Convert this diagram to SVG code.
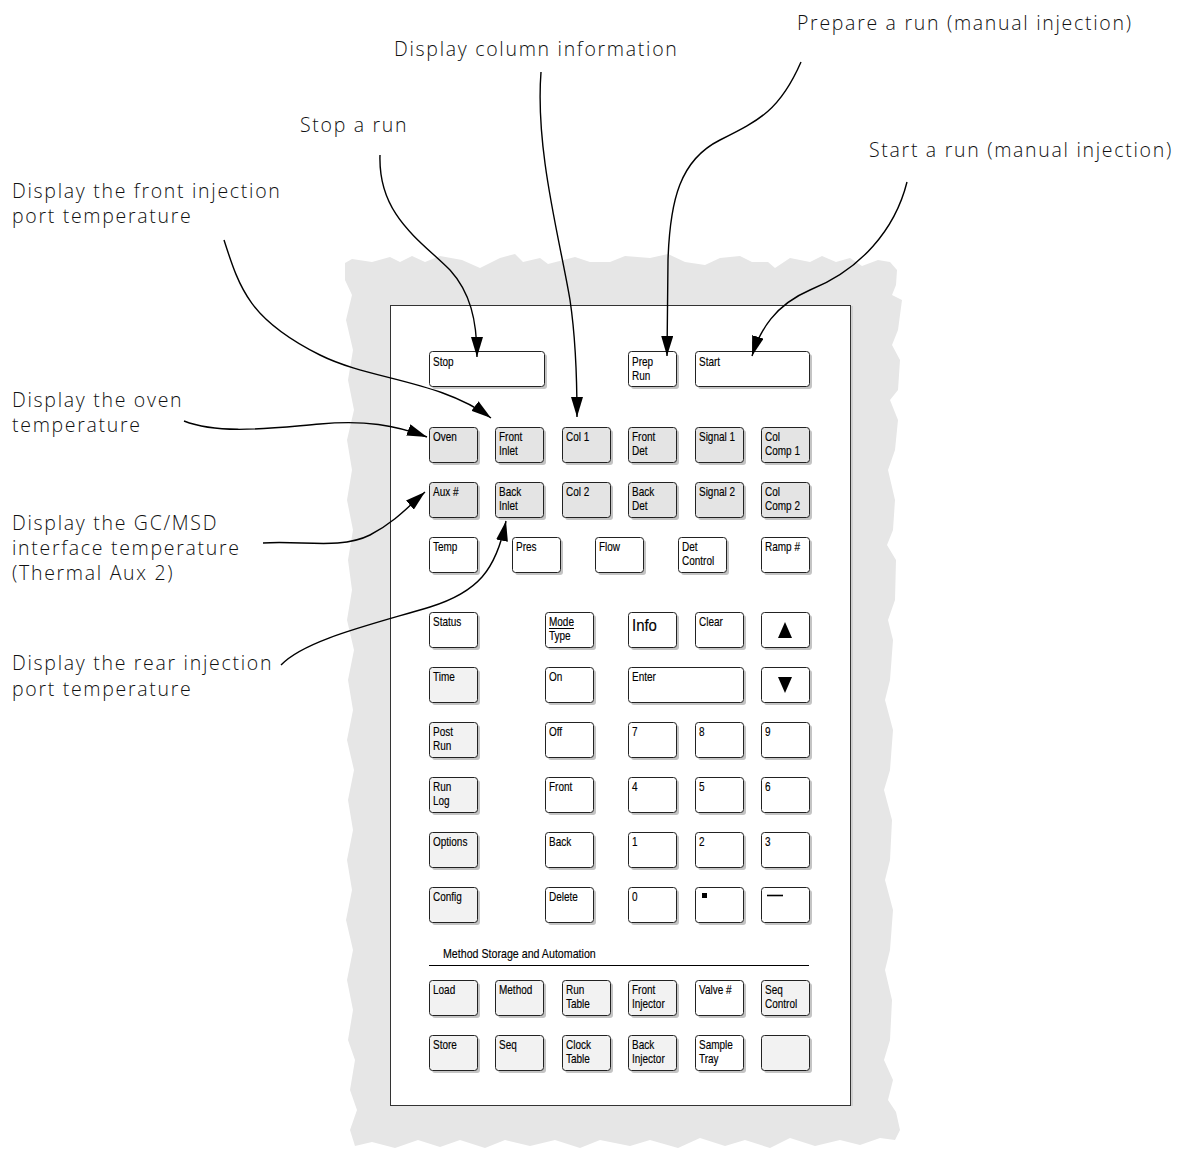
<svg xmlns="http://www.w3.org/2000/svg" width="1191" height="1152" viewBox="0 0 1191 1152">
<defs>
<style>
.lbl{font-family:"Open Sans","DejaVu Sans",sans-serif;font-weight:300;font-size:19.5px;fill:#111;letter-spacing:1.7px}
.k{fill:#fff;stroke:#222;stroke-width:1}
.g{fill:#e4e4e4}
.lg{fill:#f2f2f2}
.sh{fill:#c4c4c4}
.t{font-family:"Liberation Sans",Arial,sans-serif;font-size:12.5px;fill:#000;stroke:#000;stroke-width:0.15}
.c{fill:none;stroke:#000;stroke-width:1.4}
</style>
<marker id="ah" viewBox="0 0 20 12" refX="20" refY="6" markerWidth="20" markerHeight="12" markerUnits="userSpaceOnUse" orient="auto">
<path d="M0,0 L20,6 L0,12 Z" fill="#000"/>
</marker>
</defs>
<rect width="1191" height="1152" fill="#fff"/>
<g id="paper">
<path fill="#e6e6e6" d="M345,263 L352,259 L372,262 L390,257 L400,262 L412,256 L425,262 L440,256 L462,260 L480,268 L500,258 L515,254 L523,262 L540,258 L548,264 L575,257 L590,262 L610,262 L625,256 L650,258 L668,254 L685,262 L705,265 L720,258 L740,256 L752,262 L768,262 L775,268 L790,258 L810,262 L822,256 L836,262 L850,258 L862,266 L878,260 L890,262 L897,270 L896,285 L892,295 L902,300 L898,330 L892,345 L900,360 L898,390 L890,400 L898,420 L895,450 L888,470 L895,500 L893,530 L887,545 L896,560 L895,600 L888,620 L893,640 L890,680 L885,700 L893,730 L890,770 L884,790 L892,820 L890,860 L885,880 L893,910 L890,950 L885,970 L892,1000 L890,1040 L884,1060 L893,1080 L888,1100 L896,1112 L900,1130 L895,1140 L880,1138 L860,1145 L840,1140 L815,1146 L790,1138 L770,1148 L745,1140 L725,1146 L700,1138 L678,1148 L650,1140 L630,1146 L600,1140 L580,1148 L555,1140 L530,1146 L505,1140 L485,1148 L460,1140 L440,1147 L418,1140 L395,1148 L372,1142 L355,1146 L350,1130 L357,1110 L350,1090 L355,1060 L348,1040 L353,1010 L347,980 L353,950 L346,920 L352,890 L347,860 L353,830 L348,800 L354,770 L347,740 L353,710 L348,680 L354,650 L347,620 L352,590 L348,560 L353,530 L347,500 L352,470 L347,440 L354,410 L348,380 L353,350 L346,320 L352,295 L345,280 Z"/>
<rect x="390.5" y="305.5" width="460" height="800" fill="#fff" stroke="#333" stroke-width="1"/>
<line x1="852" y1="306" x2="852" y2="1106" stroke="#bbb" stroke-width="1"/>
</g>
<g id="labels">
<text class="lbl" x="797" y="30">Prepare a run (manual injection)</text>
<text class="lbl" x="394" y="56">Display column information</text>
<text class="lbl" x="300" y="132">Stop a run</text>
<text class="lbl" x="869" y="157">Start a run (manual injection)</text>
<text class="lbl" x="12" y="198">Display the front injection</text>
<text class="lbl" x="12" y="223">port temperature</text>
<text class="lbl" x="12" y="407">Display the oven</text>
<text class="lbl" x="12" y="432">temperature</text>
<text class="lbl" x="12" y="530">Display the GC/MSD</text>
<text class="lbl" x="12" y="555">interface temperature</text>
<text class="lbl" x="12" y="580">(Thermal Aux 2)</text>
<text class="lbl" x="12" y="670">Display the rear injection</text>
<text class="lbl" x="12" y="696">port temperature</text>
</g>
<g id="keys">
<g class="sh">
<rect x="432" y="354" width="115" height="35" rx="3"/><rect x="631" y="354" width="48" height="35" rx="3"/><rect x="698" y="354" width="114" height="35" rx="3"/>
<rect x="432" y="430" width="48" height="35" rx="3"/><rect x="498" y="430" width="48" height="35" rx="3"/><rect x="565" y="430" width="48" height="35" rx="3"/><rect x="631" y="430" width="48" height="35" rx="3"/><rect x="698" y="430" width="48" height="35" rx="3"/><rect x="764" y="430" width="48" height="35" rx="3"/>
<rect x="432" y="485" width="48" height="35" rx="3"/><rect x="498" y="485" width="48" height="35" rx="3"/><rect x="565" y="485" width="48" height="35" rx="3"/><rect x="631" y="485" width="48" height="35" rx="3"/><rect x="698" y="485" width="48" height="35" rx="3"/><rect x="764" y="485" width="48" height="35" rx="3"/>
<rect x="432" y="540" width="48" height="35" rx="3"/><rect x="515" y="540" width="48" height="35" rx="3"/><rect x="598" y="540" width="48" height="35" rx="3"/><rect x="681" y="540" width="48" height="35" rx="3"/><rect x="764" y="540" width="48" height="35" rx="3"/>
<rect x="432" y="615" width="48" height="35" rx="3"/><rect x="548" y="615" width="48" height="35" rx="3"/><rect x="631" y="615" width="48" height="35" rx="3"/><rect x="698" y="615" width="48" height="35" rx="3"/><rect x="764" y="615" width="48" height="35" rx="3"/>
<rect x="432" y="670" width="48" height="35" rx="3"/><rect x="548" y="670" width="48" height="35" rx="3"/><rect x="631" y="670" width="115" height="35" rx="3"/><rect x="764" y="670" width="48" height="35" rx="3"/>
<rect x="432" y="725" width="48" height="35" rx="3"/><rect x="548" y="725" width="48" height="35" rx="3"/><rect x="631" y="725" width="48" height="35" rx="3"/><rect x="698" y="725" width="48" height="35" rx="3"/><rect x="764" y="725" width="48" height="35" rx="3"/>
<rect x="432" y="780" width="48" height="35" rx="3"/><rect x="548" y="780" width="48" height="35" rx="3"/><rect x="631" y="780" width="48" height="35" rx="3"/><rect x="698" y="780" width="48" height="35" rx="3"/><rect x="764" y="780" width="48" height="35" rx="3"/>
<rect x="432" y="835" width="48" height="35" rx="3"/><rect x="548" y="835" width="48" height="35" rx="3"/><rect x="631" y="835" width="48" height="35" rx="3"/><rect x="698" y="835" width="48" height="35" rx="3"/><rect x="764" y="835" width="48" height="35" rx="3"/>
<rect x="432" y="890" width="48" height="35" rx="3"/><rect x="548" y="890" width="48" height="35" rx="3"/><rect x="631" y="890" width="48" height="35" rx="3"/><rect x="698" y="890" width="48" height="35" rx="3"/><rect x="764" y="890" width="48" height="35" rx="3"/>
<rect x="432" y="983" width="48" height="35" rx="3"/><rect x="498" y="983" width="48" height="35" rx="3"/><rect x="565" y="983" width="48" height="35" rx="3"/><rect x="631" y="983" width="48" height="35" rx="3"/><rect x="698" y="983" width="48" height="35" rx="3"/><rect x="764" y="983" width="48" height="35" rx="3"/>
<rect x="432" y="1038" width="48" height="35" rx="3"/><rect x="498" y="1038" width="48" height="35" rx="3"/><rect x="565" y="1038" width="48" height="35" rx="3"/><rect x="631" y="1038" width="48" height="35" rx="3"/><rect x="698" y="1038" width="48" height="35" rx="3"/><rect x="764" y="1038" width="48" height="35" rx="3"/>
</g>
<g id="k-stop"><rect class="k" x="429.5" y="351.5" width="115" height="35" rx="3"/><text class="t" transform="translate(433,366) scale(.8,1)">Stop</text></g>
<g id="k-prep"><rect class="k" x="628.5" y="351.5" width="48" height="35" rx="3"/><text class="t" transform="translate(632,366) scale(.8,1)"><tspan x="0" y="0">Prep</tspan><tspan x="0" y="14">Run</tspan></text></g>
<g id="k-start"><rect class="k" x="695.5" y="351.5" width="114" height="35" rx="3"/><text class="t" transform="translate(699,366) scale(.8,1)">Start</text></g>
<g id="k-oven"><rect class="k g" x="429.5" y="427.5" width="48" height="35" rx="3"/><text class="t" transform="translate(433,441) scale(.8,1)">Oven</text></g>
<g id="k-finlet"><rect class="k g" x="495.5" y="427.5" width="48" height="35" rx="3"/><text class="t" transform="translate(499,441) scale(.8,1)"><tspan x="0" y="0">Front</tspan><tspan x="0" y="14">Inlet</tspan></text></g>
<g id="k-col1"><rect class="k g" x="562.5" y="427.5" width="48" height="35" rx="3"/><text class="t" transform="translate(566,441) scale(.8,1)">Col 1</text></g>
<g id="k-fdet"><rect class="k g" x="628.5" y="427.5" width="48" height="35" rx="3"/><text class="t" transform="translate(632,441) scale(.8,1)"><tspan x="0" y="0">Front</tspan><tspan x="0" y="14">Det</tspan></text></g>
<g id="k-sig1"><rect class="k g" x="695.5" y="427.5" width="48" height="35" rx="3"/><text class="t" transform="translate(699,441) scale(.8,1)">Signal 1</text></g>
<g id="k-cc1"><rect class="k g" x="761.5" y="427.5" width="48" height="35" rx="3"/><text class="t" transform="translate(765,441) scale(.8,1)"><tspan x="0" y="0">Col</tspan><tspan x="0" y="14">Comp 1</tspan></text></g>
<g id="k-aux"><rect class="k g" x="429.5" y="482.5" width="48" height="35" rx="3"/><text class="t" transform="translate(433,496) scale(.8,1)">Aux #</text></g>
<g id="k-binlet"><rect class="k g" x="495.5" y="482.5" width="48" height="35" rx="3"/><text class="t" transform="translate(499,496) scale(.8,1)"><tspan x="0" y="0">Back</tspan><tspan x="0" y="14">Inlet</tspan></text></g>
<g id="k-col2"><rect class="k g" x="562.5" y="482.5" width="48" height="35" rx="3"/><text class="t" transform="translate(566,496) scale(.8,1)">Col 2</text></g>
<g id="k-bdet"><rect class="k g" x="628.5" y="482.5" width="48" height="35" rx="3"/><text class="t" transform="translate(632,496) scale(.8,1)"><tspan x="0" y="0">Back</tspan><tspan x="0" y="14">Det</tspan></text></g>
<g id="k-sig2"><rect class="k g" x="695.5" y="482.5" width="48" height="35" rx="3"/><text class="t" transform="translate(699,496) scale(.8,1)">Signal 2</text></g>
<g id="k-cc2"><rect class="k g" x="761.5" y="482.5" width="48" height="35" rx="3"/><text class="t" transform="translate(765,496) scale(.8,1)"><tspan x="0" y="0">Col</tspan><tspan x="0" y="14">Comp 2</tspan></text></g>
<g id="k-temp"><rect class="k" x="429.5" y="537.5" width="48" height="35" rx="3"/><text class="t" transform="translate(433,551) scale(.8,1)">Temp</text></g>
<g id="k-pres"><rect class="k" x="512.5" y="537.5" width="48" height="35" rx="3"/><text class="t" transform="translate(516,551) scale(.8,1)">Pres</text></g>
<g id="k-flow"><rect class="k" x="595.5" y="537.5" width="48" height="35" rx="3"/><text class="t" transform="translate(599,551) scale(.8,1)">Flow</text></g>
<g id="k-detc"><rect class="k" x="678.5" y="537.5" width="48" height="35" rx="3"/><text class="t" transform="translate(682,551) scale(.8,1)"><tspan x="0" y="0">Det</tspan><tspan x="0" y="14">Control</tspan></text></g>
<g id="k-ramp"><rect class="k" x="761.5" y="537.5" width="48" height="35" rx="3"/><text class="t" transform="translate(765,551) scale(.8,1)">Ramp #</text></g>
<g id="k-status"><rect class="k" x="429.5" y="612.5" width="48" height="35" rx="3"/><text class="t" transform="translate(433,626) scale(.8,1)">Status</text></g>
<g id="k-mode"><rect class="k" x="545.5" y="612.5" width="48" height="35" rx="3"/><text class="t" transform="translate(549,626) scale(.8,1)"><tspan x="0" y="0">Mode</tspan><tspan x="0" y="14">Type</tspan></text><line x1="549" y1="628.5" x2="574" y2="628.5" stroke="#000" stroke-width="1"/></g>
<g id="k-info"><rect class="k" x="628.5" y="612.5" width="48" height="35" rx="3"/><text class="t" transform="translate(632,631) scale(.88,1)" style="font-size:17px">Info</text></g>
<g id="k-clear"><rect class="k" x="695.5" y="612.5" width="48" height="35" rx="3"/><text class="t" transform="translate(699,626) scale(.8,1)">Clear</text></g>
<g id="k-up"><rect class="k" x="761.5" y="612.5" width="48" height="35" rx="3"/><path d="M785,622 L792,638 L778,638 Z" fill="#000"/></g>
<g id="k-time"><rect class="k lg" x="429.5" y="667.5" width="48" height="35" rx="3"/><text class="t" transform="translate(433,681) scale(.8,1)">Time</text></g>
<g id="k-on"><rect class="k" x="545.5" y="667.5" width="48" height="35" rx="3"/><text class="t" transform="translate(549,681) scale(.8,1)">On</text></g>
<g id="k-enter"><rect class="k" x="628.5" y="667.5" width="115" height="35" rx="3"/><text class="t" transform="translate(632,681) scale(.8,1)">Enter</text></g>
<g id="k-down"><rect class="k" x="761.5" y="667.5" width="48" height="35" rx="3"/><path d="M778,677 L792,677 L785,693 Z" fill="#000"/></g>
<g id="k-post"><rect class="k lg" x="429.5" y="722.5" width="48" height="35" rx="3"/><text class="t" transform="translate(433,736) scale(.8,1)"><tspan x="0" y="0">Post</tspan><tspan x="0" y="14">Run</tspan></text></g>
<g id="k-off"><rect class="k" x="545.5" y="722.5" width="48" height="35" rx="3"/><text class="t" transform="translate(549,736) scale(.8,1)">Off</text></g>
<g id="k-7"><rect class="k" x="628.5" y="722.5" width="48" height="35" rx="3"/><text class="t" transform="translate(632,736) scale(.8,1)">7</text></g>
<g id="k-8"><rect class="k" x="695.5" y="722.5" width="48" height="35" rx="3"/><text class="t" transform="translate(699,736) scale(.8,1)">8</text></g>
<g id="k-9"><rect class="k" x="761.5" y="722.5" width="48" height="35" rx="3"/><text class="t" transform="translate(765,736) scale(.8,1)">9</text></g>
<g id="k-runlog"><rect class="k lg" x="429.5" y="777.5" width="48" height="35" rx="3"/><text class="t" transform="translate(433,791) scale(.8,1)"><tspan x="0" y="0">Run</tspan><tspan x="0" y="14">Log</tspan></text></g>
<g id="k-front"><rect class="k" x="545.5" y="777.5" width="48" height="35" rx="3"/><text class="t" transform="translate(549,791) scale(.8,1)">Front</text></g>
<g id="k-4"><rect class="k" x="628.5" y="777.5" width="48" height="35" rx="3"/><text class="t" transform="translate(632,791) scale(.8,1)">4</text></g>
<g id="k-5"><rect class="k" x="695.5" y="777.5" width="48" height="35" rx="3"/><text class="t" transform="translate(699,791) scale(.8,1)">5</text></g>
<g id="k-6"><rect class="k" x="761.5" y="777.5" width="48" height="35" rx="3"/><text class="t" transform="translate(765,791) scale(.8,1)">6</text></g>
<g id="k-options"><rect class="k lg" x="429.5" y="832.5" width="48" height="35" rx="3"/><text class="t" transform="translate(433,846) scale(.8,1)">Options</text></g>
<g id="k-back"><rect class="k" x="545.5" y="832.5" width="48" height="35" rx="3"/><text class="t" transform="translate(549,846) scale(.8,1)">Back</text></g>
<g id="k-1"><rect class="k" x="628.5" y="832.5" width="48" height="35" rx="3"/><text class="t" transform="translate(632,846) scale(.8,1)">1</text></g>
<g id="k-2"><rect class="k" x="695.5" y="832.5" width="48" height="35" rx="3"/><text class="t" transform="translate(699,846) scale(.8,1)">2</text></g>
<g id="k-3"><rect class="k" x="761.5" y="832.5" width="48" height="35" rx="3"/><text class="t" transform="translate(765,846) scale(.8,1)">3</text></g>
<g id="k-config"><rect class="k lg" x="429.5" y="887.5" width="48" height="35" rx="3"/><text class="t" transform="translate(433,901) scale(.8,1)">Config</text></g>
<g id="k-delete"><rect class="k" x="545.5" y="887.5" width="48" height="35" rx="3"/><text class="t" transform="translate(549,901) scale(.8,1)">Delete</text></g>
<g id="k-0"><rect class="k" x="628.5" y="887.5" width="48" height="35" rx="3"/><text class="t" transform="translate(632,901) scale(.8,1)">0</text></g>
<g id="k-dot"><rect class="k" x="695.5" y="887.5" width="48" height="35" rx="3"/><rect x="702" y="893" width="5" height="5" fill="#000"/></g>
<g id="k-minus"><rect class="k" x="761.5" y="887.5" width="48" height="35" rx="3"/><line x1="767" y1="895.5" x2="783" y2="895.5" stroke="#000" stroke-width="1.6"/></g>
<g id="section"><text class="t" transform="translate(443,958) scale(.82,1)" style="font-size:13px">Method Storage and Automation</text><line x1="429" y1="965.5" x2="809" y2="965.5" stroke="#000" stroke-width="1"/></g>
<g id="k-load"><rect class="k lg" x="429.5" y="980.5" width="48" height="35" rx="3"/><text class="t" transform="translate(433,994) scale(.8,1)">Load</text></g>
<g id="k-method"><rect class="k lg" x="495.5" y="980.5" width="48" height="35" rx="3"/><text class="t" transform="translate(499,994) scale(.8,1)">Method</text></g>
<g id="k-runtable"><rect class="k lg" x="562.5" y="980.5" width="48" height="35" rx="3"/><text class="t" transform="translate(566,994) scale(.8,1)"><tspan x="0" y="0">Run</tspan><tspan x="0" y="14">Table</tspan></text></g>
<g id="k-finj"><rect class="k lg" x="628.5" y="980.5" width="48" height="35" rx="3"/><text class="t" transform="translate(632,994) scale(.8,1)"><tspan x="0" y="0">Front</tspan><tspan x="0" y="14">Injector</tspan></text></g>
<g id="k-valve"><rect class="k" x="695.5" y="980.5" width="48" height="35" rx="3"/><text class="t" transform="translate(699,994) scale(.8,1)">Valve #</text></g>
<g id="k-seqc"><rect class="k lg" x="761.5" y="980.5" width="48" height="35" rx="3"/><text class="t" transform="translate(765,994) scale(.8,1)"><tspan x="0" y="0">Seq</tspan><tspan x="0" y="14">Control</tspan></text></g>
<g id="k-store"><rect class="k lg" x="429.5" y="1035.5" width="48" height="35" rx="3"/><text class="t" transform="translate(433,1049) scale(.8,1)">Store</text></g>
<g id="k-seq"><rect class="k lg" x="495.5" y="1035.5" width="48" height="35" rx="3"/><text class="t" transform="translate(499,1049) scale(.8,1)">Seq</text></g>
<g id="k-clock"><rect class="k lg" x="562.5" y="1035.5" width="48" height="35" rx="3"/><text class="t" transform="translate(566,1049) scale(.8,1)"><tspan x="0" y="0">Clock</tspan><tspan x="0" y="14">Table</tspan></text></g>
<g id="k-binj"><rect class="k lg" x="628.5" y="1035.5" width="48" height="35" rx="3"/><text class="t" transform="translate(632,1049) scale(.8,1)"><tspan x="0" y="0">Back</tspan><tspan x="0" y="14">Injector</tspan></text></g>
<g id="k-tray"><rect class="k" x="695.5" y="1035.5" width="48" height="35" rx="3"/><text class="t" transform="translate(699,1049) scale(.8,1)"><tspan x="0" y="0">Sample</tspan><tspan x="0" y="14">Tray</tspan></text></g>
<g id="k-blank"><rect class="k lg" x="761.5" y="1035.5" width="48" height="35" rx="3"/></g>
</g>
<g id="connectors">
<path class="c" marker-end="url(#ah)" d="M380,155 C378,215 420,240 450,270 C470,292 477,320 477,357"/>
<path class="c" marker-end="url(#ah)" d="M541,72 C535,150 560,240 570,300 C576,340 577,380 577,417"/>
<path class="c" marker-end="url(#ah)" d="M801,62 C780,110 760,120 720,140 C680,160 670,200 668,260 L667,356"/>
<path class="c" marker-end="url(#ah)" d="M907,182 C895,230 860,270 810,290 C775,305 760,330 752,356"/>
<path class="c" marker-end="url(#ah)" d="M224,240 C240,290 250,320 320,355 C370,380 440,380 491,418"/>
<path class="c" marker-end="url(#ah)" d="M184,421 C220,435 270,428 320,424 C365,420 395,425 427,437"/>
<path class="c" marker-end="url(#ah)" d="M263,543 C300,540 340,550 370,535 C395,522 410,505 425,492"/>
<path class="c" marker-end="url(#ah)" d="M281,665 C305,640 370,625 430,607 C478,592 496,570 506,521"/>
</g>
</svg>
